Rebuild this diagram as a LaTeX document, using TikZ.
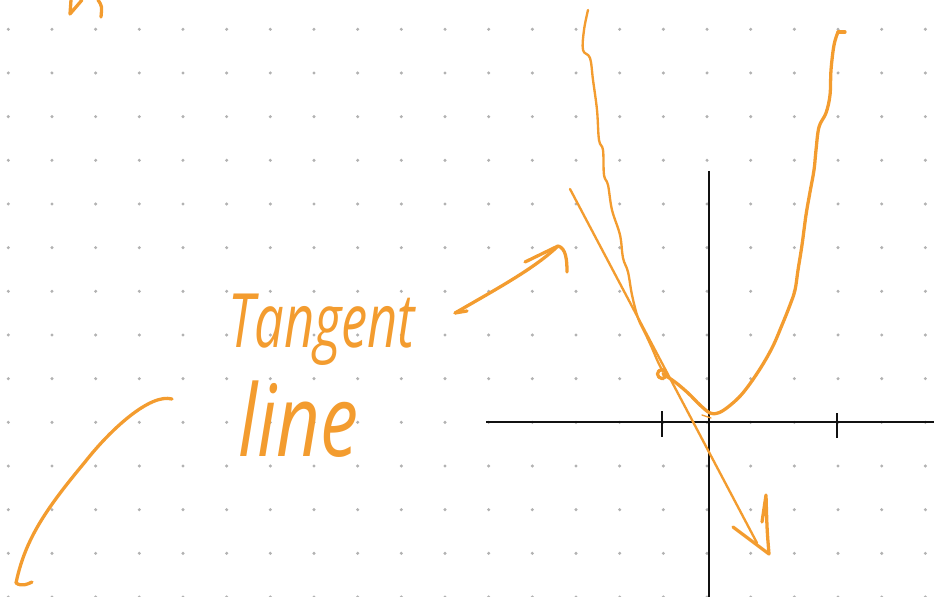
\documentclass[tikz,border=0pt]{standalone}
\usepackage{fontspec}
\usepackage{tikz}
\usetikzlibrary{calc}
\newfontfamily\handfont{Open Sans}
\definecolor{marker}{HTML}{F39C2F}
\definecolor{dotgrey}{HTML}{B2B2B2}
\definecolor{ink}{HTML}{111111}
\tikzset{
  pen/.style={marker,line width=2pt,line cap=round,line join=round},
  thickpen/.style={pen,line width=2.8pt},
  axis/.style={ink,line width=1.8pt},
  hand/.style={marker,inner sep=0pt,font=\handfont\itshape},
}

\begin{document}
\begin{tikzpicture}[x=0.03cm,y=-0.03cm]
  \useasboundingbox (0,0) rectangle (934,597);
  \foreach \i in {0,...,21}
    \foreach \j in {0,...,13}
      \fill[dotgrey] (8.3+43.67*\i,29.3+43.67*\j) circle (1.7);
  \coordinate (O) at (709,422);
  \draw[axis] (486,422) -- (934,422);
  \draw[axis] (709,171) -- (709,597);
  \draw[axis] (662,411) -- (662,437);
  \draw[axis] (837,413) -- (837,438);
  \draw[pen] plot[smooth,tension=0.6] coordinates {(588,10) (584,30) (583,50) (590,58) (593,80) (597,110) (599,140) (603,150) (604,175) (608,185) (612,210) (620,235) (623,258) (628,272) (632,295) (638,318) (646,335) (652,348) (658,362) (663,372)};
  \draw[thickpen] (662,374) circle (4.5);
  \draw[thickpen] plot[smooth,tension=0.6] coordinates {(663,374) (675,382) (688,393) (700,405) (710,413) (718,413) (728,407) (742,394) (758,372) (772,348) (782,325) (790,305) (795,290) (798,270) (802,245) (806,215) (810,192) (814,170) (816,150) (819,127) (826,113) (830,95) (831,70) (834,45) (838,32)};
  \draw[thickpen] (838,32) -- (845,32);
  \draw[pen,line width=1.2pt] (702,415) -- (711,418);
  \coordinate (tstart) at (570,189);
  \coordinate (ttip) at (769,554);
  \draw[pen] (tstart) -- (757,543);
  \draw[thickpen] (733,527) -- (ttip) .. controls (767,530) .. (766,495) -- (762,522);
  \node[hand,anchor=base west] (tangent) at (228,347) {\fontsize{40}{40}\selectfont\scalebox{1.12}[1.6]{Tangent}};
  \node[hand,anchor=base west] (line) at (238,456) {\fontsize{50}{50}\selectfont\scalebox{1.3}[1.7]{line}};
  \coordinate (ptail) at (455,313);
  \coordinate (ptip) at (558,246);
  \draw[thickpen] (ptail) -- (467,311);
  \draw[thickpen] (ptail) .. controls (500,287) and (535,268) .. (ptip);
  \draw[thickpen] (525,262) -- (ptip) .. controls (566,248) and (567,260) .. (567,272);
  \draw[thickpen] (172,399) .. controls (150,393) and (110,430) .. (85,462) .. controls (45,510) and (25,540) .. (16,583) .. controls (22,587) and (28,584) .. (32,582);
  \draw[thickpen] (82,0) -- (70,14) -- (71,0);
  \draw[thickpen] (98,0) .. controls (102,6) .. (101,17);
\end{tikzpicture}
\end{document}
